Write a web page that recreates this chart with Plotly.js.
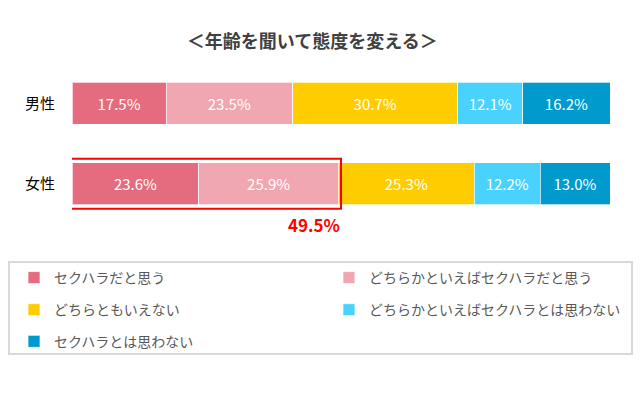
<!DOCTYPE html>
<html>
<head>
<meta charset="utf-8">
<script src="https://cdn.plot.ly/plotly-3.0.1.min.js"></script>
<style>html,body{margin:0;padding:0;background:#fff;}#chart{width:640px;height:396px;}</style>
</head>
<body>
<div id="chart"></div>
<script>
var groups = ['男性', '女性'];
var seriesNames = ['セクハラだと思う', 'どちらかといえばセクハラだと思う', 'どちらともいえない', 'どちらかといえばセクハラとは思わない', 'セクハラとは思わない'];
var s1 = [17.5, 23.6];
var s2 = [23.5, 25.9];
var s3 = [30.7, 25.3];
var s4 = [12.1, 12.2];
var s5 = [16.2, 13.0];
var colors = ['#E56C7E', '#F0A7B1', '#FFCC00', '#4AD2FF', '#009BCC'];
var highlightLabel = '49.5%';

var series = [s1, s2, s3, s4, s5];
var legendIds = ['legend', 'legend2', 'legend3', 'legend4', 'legend5'];
var FONT = '"Noto Sans CJK JP", "Noto Sans", sans-serif';

var traces = series.map(function (vals, i) {
  return {
    type: 'bar',
    orientation: 'h',
    name: seriesNames[i],
    y: groups,
    x: vals,
    text: vals.map(function (v) { return v.toFixed(1) + '%'; }),
    textposition: 'inside',
    insidetextanchor: 'middle',
    textangle: 0,
    constraintext: 'none',
    textfont: {color: '#ffffff', size: 15, family: FONT},
    marker: {color: colors[i], line: {color: 'rgba(255,255,255,0.7)', width: 1}},
    legend: legendIds[i],
    hoverinfo: 'name+x'
  };
});

function legendCfg(x, y) {
  return {x: x, y: y, xref: 'container', yref: 'container', xanchor: 'left', yanchor: 'middle',
    orientation: 'h',
    bgcolor: 'rgba(0,0,0,0)', borderwidth: 0, font: {size: 14, color: '#595959', family: FONT}};
}

var hlEnd = s1[1] + s2[1];

var layout = {
  width: 640, height: 396,
  margin: {l: 72, r: 30, t: 63, b: 172, autoexpand: false},
  paper_bgcolor: '#ffffff', plot_bgcolor: '#ffffff',
  barmode: 'stack',
  bargap: 0.48,
  font: {family: FONT},
  title: {text: '＜年齢を聞いて態度を変える＞', x: 0.488, xanchor: 'center', xref: 'container',
    y: 0.894, yref: 'container', yanchor: 'middle',
    font: {size: 18, color: '#404040', family: FONT, weight: 'bold'}},
  xaxis: {range: [0, 100], showgrid: false, zeroline: false, showticklabels: false, showline: false, fixedrange: true},
  yaxis: {type: 'category', range: [1.5, -0.5], autorange: false, showgrid: false, zeroline: false, showline: false,
    ticks: '', ticklabelstandoff: 16, tickfont: {size: 15, color: '#000000', family: FONT}},
  showlegend: true,
  legend: legendCfg(0.0219, 0.298),
  legend2: legendCfg(0.514, 0.298),
  legend3: legendCfg(0.0219, 0.217),
  legend4: legendCfg(0.514, 0.217),
  legend5: legendCfg(0.0219, 0.137),
  shapes: [
    {type: 'rect', xref: 'paper', yref: 'paper', x0: -0.1171, x1: 1.0409, y0: -0.8075, y1: -0.236,
      line: {color: '#D9D9D9', width: 2}, fillcolor: 'rgba(0,0,0,0)'},
    {type: 'rect', xref: 'x', yref: 'y', x0: -0.9, x1: hlEnd + 0.5, y0: 0.69, y1: 1.31,
      line: {color: '#FF0000', width: 2}, fillcolor: 'rgba(0,0,0,0)'}
  ],
  annotations: [
    {text: highlightLabel, xref: 'x', yref: 'y', x: hlEnd + 0.6, y: 1.5, xanchor: 'right', yanchor: 'middle',
      showarrow: false, font: {size: 17, color: '#FF0000', family: FONT, weight: 'bold'}}
  ]
};

Plotly.newPlot('chart', traces, layout, {displayModeBar: false, staticPlot: true});
</script>
</body>
</html>
